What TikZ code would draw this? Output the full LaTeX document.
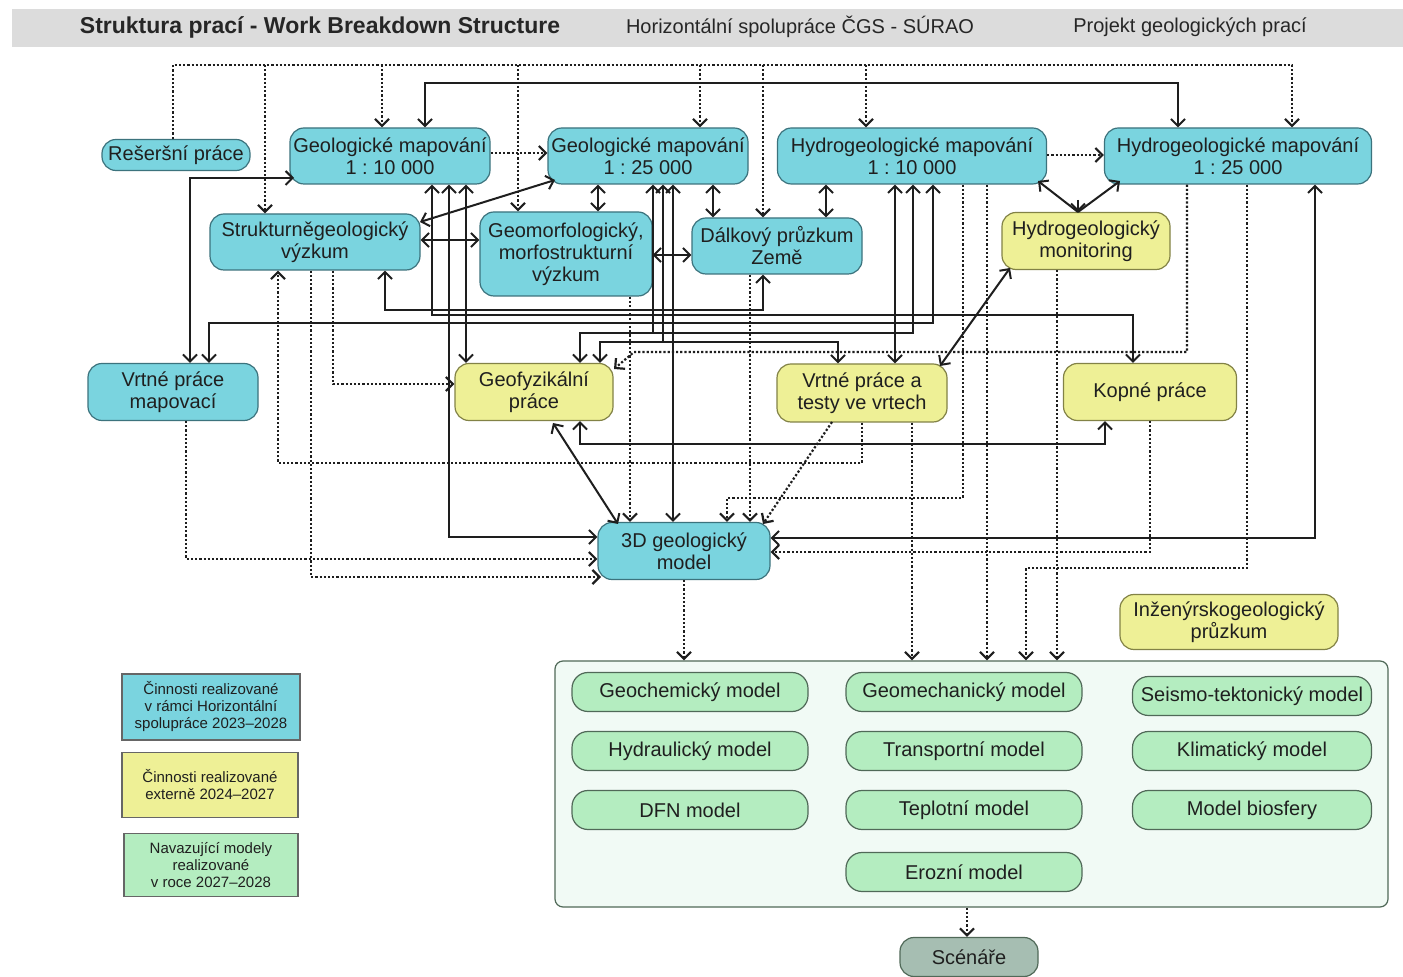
\documentclass[tikz,border=0pt]{standalone}
\usepackage{fontspec}
\setmainfont{Liberation Sans}
\usetikzlibrary{arrows.meta,calc}
\definecolor{cy}{RGB}{122,212,223}
\definecolor{cyd}{RGB}{60,115,125}
\definecolor{ye}{RGB}{238,240,150}
\definecolor{yed}{RGB}{130,130,70}
\definecolor{gr}{RGB}{180,237,192}
\definecolor{grd}{RGB}{80,105,88}
\definecolor{contc}{RGB}{241,250,245}
\definecolor{scn}{RGB}{166,190,178}
\definecolor{hdr}{RGB}{220,220,220}
\definecolor{ln}{RGB}{30,30,30}
\frenchspacing
\begin{document}
\begin{tikzpicture}[x=0.5pt,y=-0.5pt,
  >={Straight Barb[length=3.5pt,width=7pt]},
  box/.style={draw, rounded corners=7pt, line width=0.6pt, align=center,
    font=\fontsize{10}{11}\selectfont, inner sep=0pt, text=black!88},
  cb/.style={box, fill=cy, draw=cyd},
  yb/.style={box, fill=ye, draw=yed},
  gb/.style={box, fill=gr, draw=grd, rounded corners=8pt},
  lg/.style={draw=black!60, line width=0.6pt, align=center, inner sep=0pt,
    font=\fontsize{7.5}{8.5}\selectfont, text=black!88},
  sz/.style 2 args={minimum width=#1*0.5pt, minimum height=#2*0.5pt},
  sl/.style={draw=ln, line width=1pt},
  dl/.style={draw=ln, line width=1.1pt, dash pattern=on 1.1pt off 1pt}
]
\useasboundingbox[fill=white] (0,0) rectangle (1403,977);

% header
\node[fill=hdr, sz={1391}{38}, inner sep=0pt] (hdr) at (707.5,28) {};
\node[font=\fontsize{11.5}{13}\selectfont\bfseries, text=black!85] (t1) at (320,27) {Struktura prací - Work Breakdown Structure};
\node[font=\fontsize{10}{12}\selectfont, text=black!85] (t2) at (800,27) {Horizontální spolupráce ČGS - SÚRAO};
\node[font=\fontsize{10}{12}\selectfont, text=black!85] (t3) at (1190,27) {Projekt geologických prací};

% main nodes
\node[cb, sz={148}{31}] (res) at (176,155) {Rešeršní práce};
\node[cb, sz={200}{56}] (gm10) at (390,156) {Geologické mapování\\1 : 10 000};
\node[cb, sz={200}{56}] (gm25) at (648,156) {Geologické mapování\\1 : 25 000};
\node[cb, sz={269}{56}] (hm10) at (912,156) {Hydrogeologické mapování\\1 : 10 000};
\node[cb, sz={267}{56}] (hm25) at (1238,156) {Hydrogeologické mapování\\1 : 25 000};
\node[cb, sz={210}{56}] (str) at (315,242) {Strukturněgeologický\\výzkum};
\node[cb, sz={172}{84}] (geom) at (566,254) {Geomorfologický,\\morfostrukturní\\výzkum};
\node[cb, sz={170}{56}] (dal) at (777,246) {Dálkový průzkum\\Země};
\node[yb, sz={168}{57}] (mon) at (1086,241) {Hydrogeologický\\monitoring};
\node[cb, sz={170}{57}] (vmap) at (173,392) {Vrtné práce\\mapovací};
\node[yb, sz={158}{57}] (geof) at (534,392) {Geofyzikální\\práce};
\node[yb, sz={170}{58}] (vtest) at (862,393) {Vrtné práce a\\testy ve vrtech};
\node[yb, sz={173}{57}] (kop) at (1150,392) {Kopné práce};
\node[cb, sz={172}{57}] (m3d) at (684,551) {3D geologický\\model};
\node[yb, sz={218}{55}] (inz) at (1229,622) {Inženýrskogeologický\\průzkum};

% container of models
\node[draw=grd, fill=contc, rounded corners=4pt, line width=0.6pt, sz={833}{246}] (cont) at (971.5,784) {};
\node[gb, sz={236}{39}] (mgch) at (690,692) {Geochemický model};
\node[gb, sz={236}{39}] (mhyd) at (690,751) {Hydraulický model};
\node[gb, sz={236}{39}] (mdfn) at (690,810) {DFN model};
\node[gb, sz={236}{39}] (mgme) at (964,692) {Geomechanický model};
\node[gb, sz={236}{39}] (mtra) at (964,751) {Transportní model};
\node[gb, sz={236}{39}] (mtep) at (964,810) {Teplotní model};
\node[gb, sz={236}{39}] (mero) at (964,872) {Erozní model};
\node[gb, sz={239}{39}] (msei) at (1252,696) {Seismo-tektonický model};
\node[gb, sz={239}{39}] (mkli) at (1252,751) {Klimatický model};
\node[gb, sz={239}{39}] (mbio) at (1252,810) {Model biosfery};
\node[box, fill=scn, draw=grd, sz={138}{39}] (scen) at (969,957) {Scénáře};

% legend
\node[lg, fill=cy, sz={178}{66}] (lg1) at (211,707) {Činnosti realizované\\v rámci Horizontální\\spolupráce 2023–2028};
\node[lg, fill=ye, sz={176}{65}] (lg2) at (210,785) {Činnosti realizované\\externě 2024–2027};
\node[lg, fill=gr, sz={174}{63}] (lg3) at (211,865) {Navazující modely\\realizované\\v roce 2027–2028};

% ---------- dotted connectors ----------
\draw[dl,->] (173,0 |- res.north) -- (173,65) -- (1292,65) -- (1292,0 |- hm25.north);
\draw[dl,->] (265,65) -- (265,0 |- str.north);
\draw[dl,->] (382,65) -- (382,0 |- gm10.north);
\draw[dl,->] (518,65) -- (518,0 |- geom.north);
\draw[dl,->] (700,65) -- (700,0 |- gm25.north);
\draw[dl,->] (763,65) -- (763,0 |- dal.north);
\draw[dl,->] (866,65) -- (866,0 |- hm10.north);
\draw[dl,->] (gm10.east |- 0,153) -- (gm25.west |- 0,153);
\draw[dl,->] (hm10.east |- 0,155) -- (hm25.west |- 0,155);
\draw[dl,->] (333,0 |- str.south) -- (333,384) -- (geof.west |- 0,384);
\draw[dl,->] (311,0 |- str.south) -- (311,577) -- (601,577);
\draw[dl,->] (186,0 |- vmap.south) -- (186,559) -- (m3d.west |- 0,559);
\draw[dl,->] (862,0 |- vtest.south) -- (862,463) -- (278,463) -- (278,0 |- str.south);
\draw[dl,->] (630,0 |- geom.south) -- (630,0 |- m3d.north);
\draw[dl,->] (750,0 |- dal.south) -- (750,0 |- m3d.north);
\draw[dl,->] (963,0 |- hm10.south) -- (963,498) -- (727,498) -- (727,0 |- m3d.north);
\draw[dl,->] (832,422) -- (763,524);
\draw[dl,->] (1187,0 |- hm25.south) -- (1187,352) -- (634,352) -- (614,369);
\draw[dl,->] (1150,0 |- kop.south) -- (1150,552) -- (m3d.east |- 0,552);
\draw[dl,->] (1247,0 |- hm25.south) -- (1247,568) -- (1026,568) -- (1026,0 |- cont.north);
\draw[dl,->] (987,0 |- hm10.south) -- (987,0 |- cont.north);
\draw[dl,->] (912,0 |- vtest.south) -- (912,0 |- cont.north);
\draw[dl,->] (1057,0 |- mon.south) -- (1057,0 |- cont.north);
\draw[dl,->] (684,0 |- m3d.south) -- (684,0 |- cont.north);
\draw[dl,->] (967,0 |- cont.south) -- (967,0 |- scen.north);

% ---------- solid connectors ----------
\draw[sl,<->] (425,0 |- gm10.north) -- (425,83) -- (1178,83) -- (1178,0 |- hm25.north);
\draw[sl,<->] (420,222) -- (555,180);
\draw[sl,<->] (str.east |- 0,240) -- (geom.west |- 0,240);
\draw[sl,<->] (geom.east |- 0,255) -- (dal.west |- 0,255);
\draw[sl,<->] (598,0 |- gm25.south) -- (598,0 |- geom.north);
\draw[sl,<->] (713,0 |- gm25.south) -- (713,0 |- dal.north);
\draw[sl,<->] (826,0 |- hm10.south) -- (826,0 |- dal.north);
\draw[sl,<->] (294,178) -- (190,178) -- (190,0 |- vmap.north);
\draw[sl,<->] (209,0 |- vmap.north) -- (209,323) -- (933,323) -- (933,0 |- hm10.south);
\draw[sl,<->] (385,0 |- str.south) -- (385,310) -- (763,310) -- (763,0 |- dal.south);
\draw[sl,<->] (432,0 |- gm10.south) -- (432,315) -- (1133,315) -- (1133,0 |- kop.north);
\draw[sl,<->] (449,0 |- gm10.south) -- (449,537) -- (m3d.west |- 0,537);
\draw[sl,<->] (466,0 |- gm10.south) -- (466,0 |- geof.north);
\draw[sl,<->] (653,0 |- gm25.south) -- (653,333) -- (580,333) -- (580,0 |- geof.north);
\draw[sl,->] (653,333) -- (913,333) -- (913,0 |- hm10.south);
\draw[sl,<->] (663,0 |- gm25.south) -- (663,342) -- (838,342) -- (838,0 |- vtest.north);
\draw[sl,->] (663,342) -- (600,342) -- (600,0 |- geof.north);
\draw[sl,<->] (673,0 |- gm25.south) -- (673,0 |- m3d.north);
\draw[sl,<->] (895,0 |- hm10.south) -- (895,0 |- vtest.north);
\coordinate (mtop) at (1078,212);
\draw[sl,->] (mtop) -- (1038,181);
\draw[sl,->] (mtop) -- (1120,181);
\draw[sl,->] (1078,200) -- (mtop);
\draw[sl,<->] (1010,268) -- (940,366);
\draw[sl,<->] (553,423) -- (618,524);
\draw[sl,<->] (580,0 |- geof.south) -- (580,444) -- (1105,444) -- (1105,0 |- kop.south);
\draw[sl,<->] (m3d.east |- 0,538) -- (1315,538) -- (1315,0 |- hm25.south);
\end{tikzpicture}
\end{document}
